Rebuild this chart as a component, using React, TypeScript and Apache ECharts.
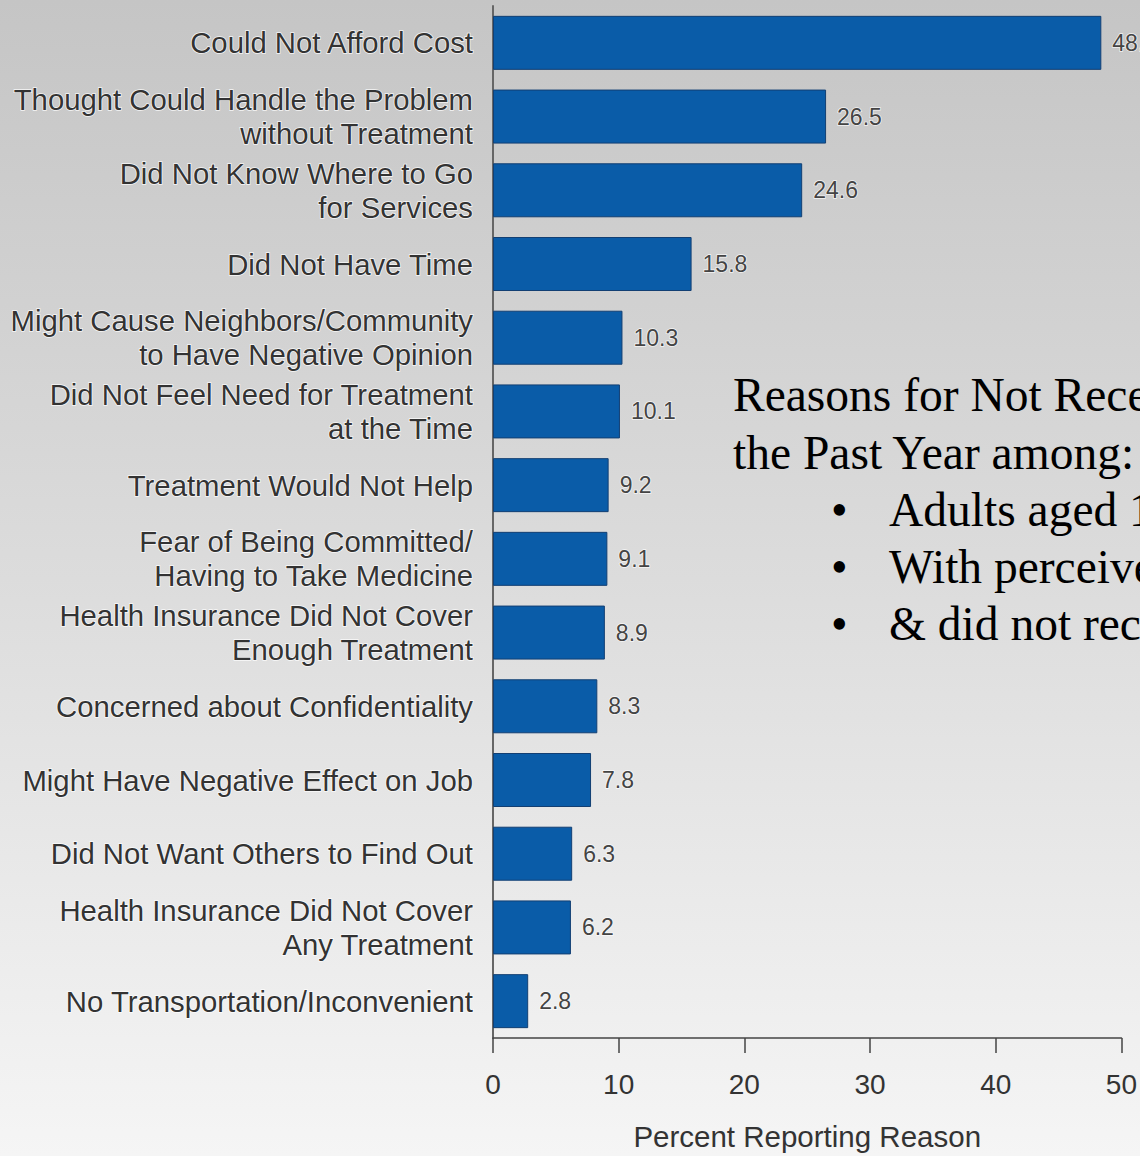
import React, { useEffect, useRef } from "react";
import * as echarts from "echarts";

const categories = [
  "Could Not Afford Cost",
  "Thought Could Handle the Problem\nwithout Treatment",
  "Did Not Know Where to Go\nfor Services",
  "Did Not Have Time",
  "Might Cause Neighbors/Community\nto Have Negative Opinion",
  "Did Not Feel Need for Treatment\nat the Time",
  "Treatment Would Not Help",
  "Fear of Being Committed/\nHaving to Take Medicine",
  "Health Insurance Did Not Cover\nEnough Treatment",
  "Concerned about Confidentiality",
  "Might Have Negative Effect on Job",
  "Did Not Want Others to Find Out",
  "Health Insurance Did Not Cover\nAny Treatment",
  "No Transportation/Inconvenient",
];

const values = [48.4, 26.5, 24.6, 15.8, 10.3, 10.1, 9.2, 9.1, 8.9, 8.3, 7.8, 6.3, 6.2, 2.8];

const xTicks = { min: 0, max: 50, interval: 10 };
const axisName = "Percent Reporting Reason";

const titleLines = ["Reasons for Not Rece", "the Past Year among:"];
const bulletLines = ["Adults aged 1", "With perceive", "& did not rec"];

const SANS = "'Liberation Sans', Arial, Helvetica, sans-serif";
const SERIF = "'Liberation Serif', 'Times New Roman', serif";

export default function App() {
  const ref = useRef<HTMLDivElement>(null);

  useEffect(() => {
    if (!ref.current) return;
    const chart = echarts.init(ref.current, null, { renderer: "svg" });

    const FS = 47.5;
    const graphics: any[] = [];
    const titleY = [395, 453];
    titleLines.forEach((t, i) => {
      graphics.push({
        type: "text",
        left: 733,
        top: titleY[i] - FS / 2,
        style: { text: t, font: `${FS}px ${SERIF}`, fill: "#000" },
      });
    });
    const bulletY = [510, 567, 624];
    bulletLines.forEach((t, i) => {
      graphics.push({
        type: "text",
        left: 831,
        top: bulletY[i] - FS / 2,
        style: { text: "\u2022", font: `${FS}px ${SERIF}`, fill: "#000" },
      });
      graphics.push({
        type: "text",
        left: 889,
        top: bulletY[i] - FS / 2,
        style: { text: t, font: `${FS}px ${SERIF}`, fill: "#000" },
      });
    });

    chart.setOption({
      animation: false,
      backgroundColor: new echarts.graphic.LinearGradient(0, 0, 0, 1, [
        { offset: 0, color: "#c5c5c5" },
        { offset: 0.5, color: "#dcdcdc" },
        { offset: 1, color: "#f5f5f5" },
      ]),
      grid: { left: 493, right: 17, top: 6, bottom: 109, containLabel: false },
      xAxis: {
        type: "value",
        min: xTicks.min,
        max: xTicks.max,
        interval: xTicks.interval,
        name: axisName,
        nameLocation: "middle",
        nameGap: 83,
        nameTextStyle: { fontFamily: SANS, fontSize: 29.5, color: "#333", verticalAlign: "top" },
        axisLine: { show: true, lineStyle: { color: "#444", width: 1.5 } },
        axisTick: { show: true, length: 15, lineStyle: { color: "#444", width: 1.5 } },
        axisLabel: { fontFamily: SANS, fontSize: 28, color: "#333", margin: 32 },
        splitLine: { show: false },
      },
      yAxis: {
        type: "category",
        data: categories,
        inverse: true,
        axisLine: { show: true, lineStyle: { color: "#666", width: 2 } },
        axisTick: { show: false },
        axisLabel: {
          fontFamily: SANS,
          fontSize: 29.3,
          lineHeight: 34,
          color: "#333",
          margin: 20,
          align: "right",
          textBorderColor: "rgba(255,255,255,0.85)",
          textBorderWidth: 1.5,
        },
      },
      series: [
        {
          type: "bar",
          data: values,
          barWidth: 54,
          itemStyle: { color: "#0a5ca8", borderColor: "#123f73", borderWidth: 1 },
          label: {
            show: true,
            position: "right",
            distance: 11,
            fontFamily: SANS,
            fontSize: 23,
            color: "#444",
            textBorderColor: "rgba(255,255,255,0.8)",
            textBorderWidth: 1.5,
            formatter: (p: any) => p.value.toFixed(1),
          },
        },
      ],
      graphic: graphics,
    });

    return () => chart.dispose();
  }, []);

  return (
    <div
      ref={ref}
      style={{ position: "fixed", left: 0, top: 0, width: 1140, height: 1156 }}
    />
  );
}
